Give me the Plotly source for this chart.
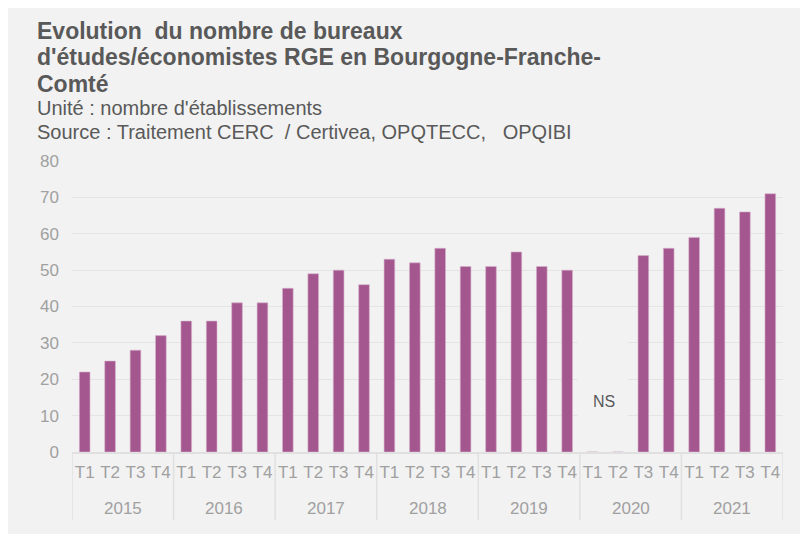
import plotly.graph_objects as go

# Data
years = ["2015", "2016", "2017", "2018", "2019", "2020", "2021"]
quarters = ["T1", "T2", "T3", "T4"]
values = [
    22, 25, 28, 32,
    36, 36, 41, 41,
    45, 49, 50, 46,
    53, 52, 56, 51,
    51, 55, 51, 50,
    0, 0, 54, 56,
    59, 67, 66, 71,
]
x_keys = [f"{y} {q}" for y in years for q in quarters]
x_labels = [q for _ in years for q in quarters]

title_lines = [
    "Evolution  du nombre de bureaux",
    "d'études/économistes RGE en Bourgogne-Franche-",
    "Comté",
]
sub_lines = [
    "Unité : nombre d'établissements",
    "Source : Traitement CERC  / Certivea, OPQTECC,   OPQIBI",
]

BG = "#f2f2f2"
BAR = "#a4568e"
TXT = "#595959"
TICK = "#a0a0a0"
DIV = "#e0e0e0"
FONT = "Liberation Sans, Arial, sans-serif"

W, H = 808, 534
L, T, PW, PH = 64, 153, 711, 291
R, B = W - L - PW, H - T - PH


def px(fx):
    return (fx - L) / PW


def py(fy):
    return (T + PH - fy) / PH


fig = go.Figure()
fig.add_trace(go.Bar(
    x=x_keys, y=values,
    marker=dict(color=BAR, line=dict(color="#d7b2cc", width=0.6)),
    showlegend=False,
))

# masking box behind "NS"
fig.add_shape(type="rect", xref="x", yref="y", layer="between",
              x0=19.4, x1=21.4, y0=7, y1=38,
              fillcolor=BG, line=dict(width=0))

fig.add_annotation(x=20.45, y=14, xref="x", yref="y", text="NS",
                   showarrow=False, font=dict(size=16, color=TXT, family=FONT))

# year group labels and dividers
nq = len(quarters)
for i, yr in enumerate(years):
    fig.add_annotation(x=i * nq + (nq - 1) / 2, y=py(500), xref="x", yref="paper",
                       yanchor="middle", showarrow=False, text=yr,
                       font=dict(size=17, color=TICK, family=FONT))
for i in range(len(years) + 1):
    fig.add_shape(type="line", xref="x", yref="paper",
                  x0=i * nq - 0.5, x1=i * nq - 0.5, y0=0, y1=py(512),
                  line=dict(color=DIV, width=1.5))

for text, fy in zip(title_lines, [23, 49, 76]):
    fig.add_annotation(x=px(27), y=py(fy), xref="paper", yref="paper",
                       xanchor="left", yanchor="middle", showarrow=False,
                       text="<b>" + text + "</b>",
                       font=dict(size=23, color=TXT, family=FONT))

for text, fy in zip(sub_lines, [100, 124]):
    fig.add_annotation(x=px(27), y=py(fy), xref="paper", yref="paper",
                       xanchor="left", yanchor="middle", showarrow=False,
                       text=text,
                       font=dict(size=20, color=TXT, family=FONT))

fig.update_layout(
    width=W, height=H,
    margin=dict(l=L, r=R, t=T, b=B),
    paper_bgcolor=BG,
    plot_bgcolor=BG,
    bargap=0.58,
    font=dict(family=FONT, color=TICK),
    xaxis=dict(
        type="category",
        range=[-0.5, len(x_keys) - 0.5],
        tickvals=x_keys, ticktext=x_labels,
        tickfont=dict(size=17, color=TICK),
        tickangle=0,
        showline=True, linecolor=DIV, linewidth=1.5,
        ticks="", showgrid=False,
        ticklabelstandoff=4,
    ),
    yaxis=dict(
        range=[0, 80], dtick=10,
        tickfont=dict(size=17, color=TICK),
        gridcolor="#e4e4e4", gridwidth=1,
        zeroline=False, showline=False, ticks="",
        ticklabelstandoff=12,
    ),
)

fig.write_html("out.html")
